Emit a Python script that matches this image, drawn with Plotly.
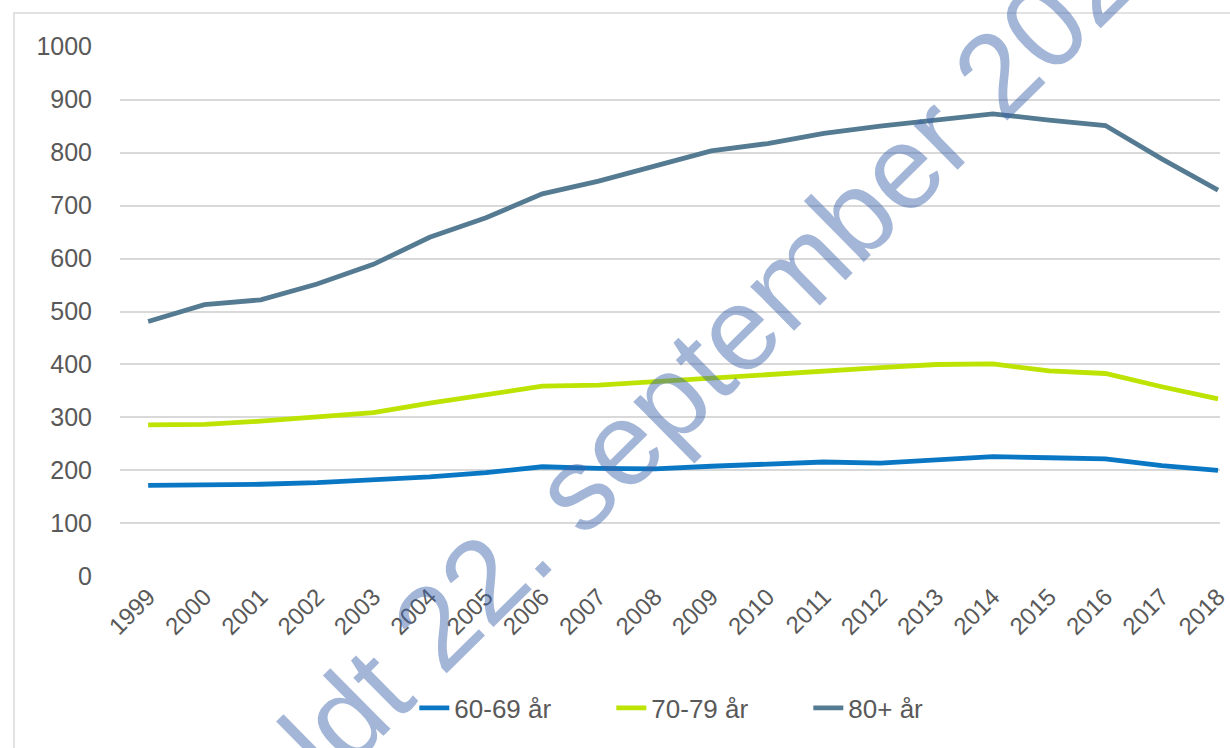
import plotly.graph_objects as go

years = [str(y) for y in range(1999, 2019)]
s60 = [172, 172, 174, 177, 182, 188, 196, 207, 204, 203, 208, 212, 216, 214, 221, 226, 224, 222, 209, 200]
s70 = [286, 287, 293, 302, 309, 327, 343, 359, 361, 368, 374, 381, 389, 394, 400, 401, 388, 383, 358, 335]
s80 = [481, 513, 522, 552, 589, 640, 677, 722, 746, 775, 803, 817, 836, 850, 861, 873, 861, 851, 788, 729]

series_names = ["60-69 år", "70-79 år", "80+ år"]
colors = ["#0A77C4", "#BDE302", "#557B92"]

W, H = 1230, 748
L, R, T, B = 120, 0, 46, 171
pw = W - L - R
ph = H - T - B

fig = go.Figure()
for name, vals, c in zip(series_names, [s60, s70, s80], colors):
    fig.add_trace(go.Scatter(x=list(range(len(years))), y=vals, name=name, mode="lines",
                             line=dict(color=c, width=4.8)))

font_fam = "Liberation Sans, Arial, sans-serif"

def px_x(p):
    return (p - L) / pw

def px_y(p):
    return (H - B - p) / ph

fig.update_layout(
    width=W, height=H,
    margin=dict(l=L, r=R, t=T, b=B, pad=0),
    paper_bgcolor="white", plot_bgcolor="white",
    font=dict(family=font_fam, color="#595959", size=24),
    xaxis=dict(range=[-0.5, 19.035], tickmode="array", tickvals=list(range(len(years))),
               ticktext=years, tickangle=-45, showgrid=False, zeroline=False,
               showline=False, ticks="", ticklabeloverflow="allow",
               tickfont=dict(size=24, color="#595959")),
    yaxis=dict(range=[-1, 1001], tickmode="array", tickvals=list(range(0, 1001, 100)),
               showgrid=True, gridcolor="#D9D9D9", gridwidth=1.5, zeroline=False,
               showline=False, ticks="", ticklabelstandoff=27,
               tickfont=dict(size=25, color="#595959")),
    legend=dict(orientation="h", x=px_x(417), y=px_y(708), xanchor="left", yanchor="middle",
                font=dict(size=26, color="#595959"), entrywidth=152, bgcolor="rgba(0,0,0,0)"),
    shapes=[dict(type="rect", xref="paper", yref="paper", x0=px_x(13), x1=px_x(1300),
                 y0=px_y(800), y1=px_y(13), line=dict(color="#D9D9D9", width=1.5),
                 fillcolor="rgba(0,0,0,0)", layer="below")],
    annotations=[dict(text="Afholdt 22. september 2020", xref="paper", yref="paper",
                      x=px_x(650), y=px_y(420), xanchor="center", yanchor="middle",
                      showarrow=False, textangle=-44.6,
                      font=dict(family=font_fam, size=118, color="rgba(60,100,170,0.47)"))],
)

fig.write_html("out.html", config={"displayModeBar": False},
               post_script="document.body.style.margin='0';document.body.style.overflow='hidden';")
